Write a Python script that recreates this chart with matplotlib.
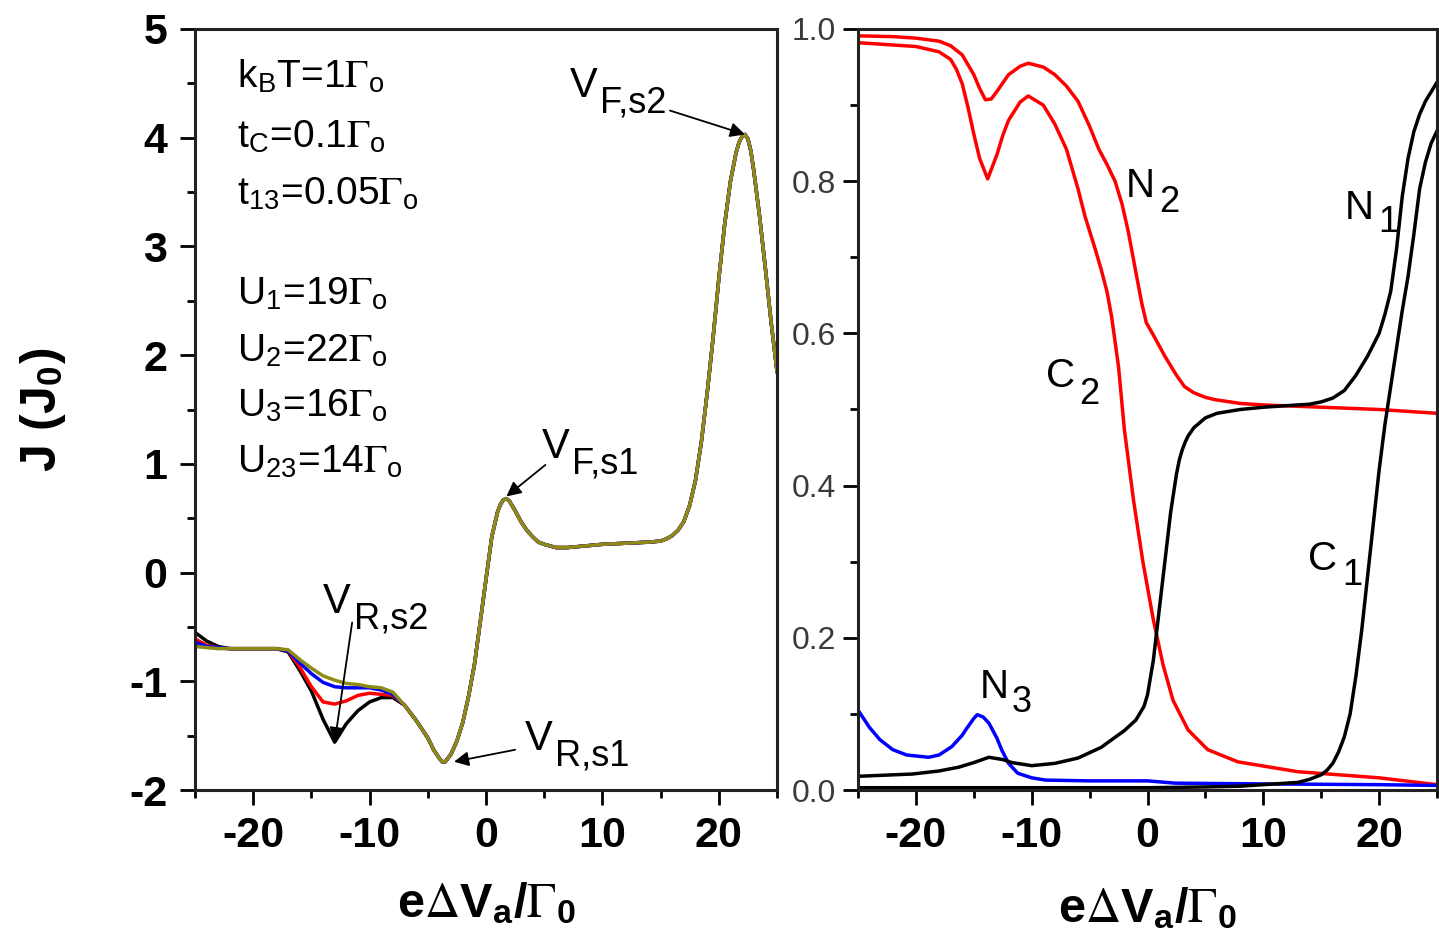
import numpy as np
import matplotlib
matplotlib.use("Agg")
import matplotlib.pyplot as plt
from matplotlib.ticker import MultipleLocator

plt.rcParams['font.family'] = ['Liberation Sans', 'DejaVu Sans']
plt.rcParams['mathtext.fontset'] = 'stix'

# ---- left panel: current J vs bias ----
# low-bias part where the four curves differ
x_div = [-25, -24, -23, -22, -20, -18, -17, -16, -15, -14, -13, -12, -11, -10, -9, -8]
j_black = [-0.55, -0.63, -0.68, -0.70, -0.70, -0.70, -0.73, -0.90, -1.09, -1.35, -1.56, -1.39, -1.27, -1.19, -1.15, -1.15]
j_red = [-0.61, -0.67, -0.69, -0.70, -0.70, -0.70, -0.72, -0.87, -1.05, -1.19, -1.21, -1.18, -1.13, -1.11, -1.12, -1.13]
j_blue = [-0.64, -0.68, -0.69, -0.70, -0.70, -0.70, -0.72, -0.83, -0.93, -1.01, -1.05, -1.06, -1.06, -1.06, -1.08, -1.12]
j_olive = [-0.68, -0.69, -0.70, -0.70, -0.70, -0.70, -0.71, -0.80, -0.88, -0.95, -0.99, -1.02, -1.03, -1.05, -1.06, -1.10]

# common part of all four curves
x_tail = [-7, -6, -5, -4.5, -4, -3.75, -3.5, -3, -2.5, -2, -1.5, -1, -0.5, 0, 0.5, 1, 1.25,
          1.5, 1.75, 2, 2.5, 3, 3.5, 4, 4.5, 5, 6, 7, 8, 10, 12, 14, 15, 15.5, 16, 16.5, 17,
          17.5, 18, 18.5, 19, 19.5, 20, 20.5, 21, 21.5, 21.75, 22, 22.25, 22.5, 22.75, 23,
          23.5, 24, 24.5, 25]
j_tail = [-1.22, -1.36, -1.52, -1.63, -1.71, -1.74, -1.74, -1.67, -1.55, -1.38, -1.14, -0.85,
          -0.46, -0.06, 0.33, 0.56, 0.63, 0.67, 0.68, 0.66, 0.57, 0.47, 0.39, 0.33, 0.28, 0.26,
          0.23, 0.23, 0.24, 0.26, 0.27, 0.28, 0.29, 0.31, 0.34, 0.39, 0.47, 0.62, 0.85, 1.20,
          1.65, 2.15, 2.70, 3.20, 3.60, 3.87, 3.96, 4.01, 4.03, 3.99, 3.88, 3.70, 3.28, 2.80,
          2.30, 1.85]

params = [r"k$_{\mathregular{B}}$T=1$\Gamma_{\mathregular{o}}$",
          r"t$_{\mathregular{C}}$=0.1$\Gamma_{\mathregular{o}}$",
          r"t$_{\mathregular{13}}$=0.05$\Gamma_{\mathregular{o}}$",
          r"U$_{\mathregular{1}}$=19$\Gamma_{\mathregular{o}}$",
          r"U$_{\mathregular{2}}$=22$\Gamma_{\mathregular{o}}$",
          r"U$_{\mathregular{3}}$=16$\Gamma_{\mathregular{o}}$",
          r"U$_{\mathregular{23}}$=14$\Gamma_{\mathregular{o}}$"]
param_y = [4.46, 3.91, 3.38, 2.46, 1.94, 1.43, 0.92]

# ---- right panel: occupations N and correlations C ----
x_n2 = [-25, -22, -20, -18, -17, -16, -15, -14.5, -14, -13.5, -13, -12, -11, -10.3, -9, -8,
        -7, -6, -5, -4.2, -3.5, -2.8, -2.2, -1.65, -1, -0.5, -0.1, 0.5, 1.5, 2.5, 3.2, 4, 5,
        5.8, 8, 10, 15, 20, 25]
n2 = [0.991, 0.990, 0.988, 0.984, 0.978, 0.966, 0.940, 0.922, 0.907, 0.908, 0.918, 0.940,
      0.951, 0.955, 0.950, 0.940, 0.925, 0.905, 0.872, 0.842, 0.822, 0.800, 0.770, 0.733,
      0.680, 0.640, 0.614, 0.598, 0.570, 0.545, 0.530, 0.522, 0.516, 0.513, 0.508, 0.506,
      0.503, 0.500, 0.495]

x_c2 = [-25, -20, -18, -17, -16.5, -16, -15.5, -15, -14.5, -13.8, -13, -12.5, -12, -11, -10.3,
        -9, -8, -7, -6, -5.4, -4.5, -4, -3.5, -3.1, -2.5, -2, -1.2, -0.4, 0.5, 1.35, 2.2,
        3.5, 5.2, 7.8, 13, 20, 25]
c2 = [0.982, 0.977, 0.970, 0.960, 0.947, 0.928, 0.897, 0.862, 0.830, 0.803, 0.835, 0.860,
      0.880, 0.904, 0.912, 0.900, 0.875, 0.842, 0.790, 0.754, 0.710, 0.684, 0.655, 0.622,
      0.556, 0.474, 0.380, 0.300, 0.224, 0.164, 0.118, 0.079, 0.053, 0.037, 0.024, 0.016,
      0.007]

x_n1 = [-25, -20.3, -18, -16.3, -15, -13.7, -12.5, -11.7, -10, -8, -6, -4, -3.1, -2, -1, -0.3,
        0, 0.5, 1, 1.5, 2, 2.5, 2.75, 3, 3.25, 3.5, 4, 5, 6, 8, 10, 12, 14, 15, 16, 17, 18,
        19, 20, 20.5, 21, 21.5, 22, 22.5, 23, 23.5, 24, 25]
n1 = [0.018, 0.021, 0.025, 0.030, 0.036, 0.043, 0.040, 0.036, 0.032, 0.035, 0.042, 0.056,
      0.066, 0.078, 0.092, 0.110, 0.125, 0.170, 0.235, 0.300, 0.365, 0.415, 0.434, 0.447,
      0.457, 0.465, 0.476, 0.489, 0.495, 0.500, 0.503, 0.505, 0.507, 0.510, 0.515, 0.525,
      0.545, 0.570, 0.600, 0.625, 0.655, 0.710, 0.780, 0.830, 0.865, 0.888, 0.905, 0.930]

x_c1 = [-25, -10, 0, 5, 8, 10, 12, 13, 14, 15, 15.5, 16, 16.5, 17, 17.5, 18, 18.5, 19, 19.5,
        20, 20.5, 21, 21.5, 22, 22.5, 23, 23.5, 24, 24.5, 25]
c1 = [0.003, 0.003, 0.003, 0.004, 0.005, 0.007, 0.009, 0.010, 0.014, 0.020, 0.026, 0.035,
      0.050, 0.070, 0.100, 0.150, 0.210, 0.280, 0.350, 0.420, 0.480, 0.530, 0.580, 0.630,
      0.675, 0.730, 0.790, 0.825, 0.850, 0.866]

x_n3 = [-25, -24, -23.1, -22, -20.8, -18.9, -18, -16.9, -16, -15.7, -15, -14.7, -14.2, -13.7,
        -13, -12.6, -12, -11.2, -10, -8.8, -5, 0, 2.4, 10, 20, 25]
n3 = [0.105, 0.082, 0.066, 0.053, 0.046, 0.043, 0.046, 0.057, 0.072, 0.079, 0.094, 0.099,
      0.096, 0.088, 0.068, 0.053, 0.035, 0.022, 0.016, 0.013, 0.012, 0.012, 0.009, 0.008,
      0.007, 0.006]

fig = plt.figure(figsize=(14.39, 9.42), dpi=100)
W, H = 1439.0, 942.0
ax1 = fig.add_axes([195 / W, 1 - 790 / H, 582 / W, 761 / H])
ax2 = fig.add_axes([858 / W, 1 - 790 / H, 579 / W, 761 / H])

lw = 2.5
for ys, c in [(j_black, 'black'), (j_red, '#ff0000'), (j_blue, '#0000ff'), (j_olive, '#8c8c14')]:
    ax1.plot(list(x_div) + x_tail, list(ys) + j_tail, color=c, lw=lw, solid_joinstyle='round')

ax1.set_xlim(-25, 25)
ax1.set_ylim(-2, 5)
ax1.xaxis.set_minor_locator(MultipleLocator(5))
ax1.yaxis.set_minor_locator(MultipleLocator(0.5))
ax1.set_xticks([-20, -10, 0, 10, 20])
ax1.set_xticklabels(['-20', '-10', '0', '10', '20'])
ax1.set_yticks(range(-2, 6))
ax1.set_yticklabels(['-2', '-1', '0', '1', '2', '3', '4', '5'])

for i, s in enumerate(params):
    ax1.text(-21.4, param_y[i], s, fontsize=28, va='baseline', ha='left')


def sub_label(ax, x, y, main, sub, size, sub_size, dx, dy):
    ax.text(x, y, main, fontsize=size, va='baseline', ha='left')
    ax.annotate(sub, (x, y), xytext=(dx, dy), textcoords='offset points',
                fontsize=sub_size, va='baseline', ha='left')


arrow = dict(arrowstyle='-|>', color='black', lw=1.3, mutation_scale=22, shrinkA=0, shrinkB=0)
xt = np.array(x_tail)
jt = np.array(j_tail)
i_min = np.argmin(jt)
i_pk2 = np.argmax(jt)
i_pk1 = np.argmax(np.where(xt < 5, jt, -9))
i_bmin = int(np.argmin(j_black))

sub_label(ax1, -14.0, -0.37, 'V', 'R,s2', 30, 26, 22, -11)
ax1.annotate('', xy=(x_div[i_bmin], j_black[i_bmin]), xytext=(-11.5, -0.46), arrowprops=arrow)

sub_label(ax1, 3.3, -1.63, 'V', 'R,s1', 30, 26, 22, -11)
ax1.annotate('', xy=(xt[i_min] + 1.0, jt[i_min]), xytext=(2.5, -1.63), arrowprops=arrow)

sub_label(ax1, 4.8, 1.05, 'V', 'F,s1', 30, 26, 22, -11)
ax1.annotate('', xy=(xt[i_pk1], jt[i_pk1] + 0.02), xytext=(5.1, 0.99), arrowprops=arrow)

sub_label(ax1, 7.2, 4.37, 'V', 'F,s2', 30, 26, 22, -11)
ax1.annotate('', xy=(xt[i_pk2], jt[i_pk2]), xytext=(15.8, 4.25), arrowprops=arrow)

xlab = r"e$\Delta$V$_{\mathregular{a}}$/$\Gamma_{\mathregular{0}}$"
ax1.set_ylabel(r"J (J$_{\mathregular{0}}$)", fontsize=36, fontweight='bold', labelpad=44)
ax1.set_xlabel(xlab, fontsize=35, fontweight='bold', labelpad=18)

# right panel
ax2.plot(x_n2, n2, color='#ff0000', lw=lw)
ax2.plot(x_c2, c2, color='#ff0000', lw=lw)
ax2.plot(x_n3, n3, color='#0000ff', lw=lw)
ax2.plot(x_n1, n1, color='black', lw=lw)
ax2.plot(x_c1, c1, color='black', lw=lw)

ax2.set_xlim(-25, 25)
ax2.set_ylim(0, 1)
ax2.set_xticks([-20, -10, 0, 10, 20])
ax2.set_xticklabels(['-20', '-10', '0', '10', '20'])
ax2.xaxis.set_minor_locator(MultipleLocator(5))
ax2.set_yticks([0, 0.2, 0.4, 0.6, 0.8, 1.0])
ax2.set_yticklabels(['0.0', '0.2', '0.4', '0.6', '0.8', '1.0'])
ax2.yaxis.set_minor_locator(MultipleLocator(0.1))

sub_label(ax2, -1.9, 0.779, 'N', '2', 29, 26, 24, -10.8)
sub_label(ax2, -8.75, 0.529, 'C', '2', 29, 26, 24, -12)
sub_label(ax2, 17.05, 0.75, 'N', '1', 29, 26, 24, -9.5)
sub_label(ax2, 13.9, 0.289, 'C', '1', 29, 26, 24, -10.8)
sub_label(ax2, -14.5, 0.121, 'N', '3', 29, 26, 23, -10)

ax2.set_xlabel(xlab, fontsize=35, fontweight='bold', labelpad=22)

for ax in (ax1, ax2):
    for sp in ax.spines.values():
        sp.set_linewidth(2.2)
        sp.set_color('#222222')
    ax.tick_params(which='major', direction='out', length=11, width=2.0, top=False, right=False)
    ax.tick_params(which='minor', direction='out', length=6, width=2.0, top=False, right=False)
    for lab in ax.get_xticklabels():
        lab.set_fontsize(31)
        lab.set_fontweight('bold')
    ax.tick_params(axis='x', pad=8)

for lab in ax1.get_yticklabels():
    lab.set_fontsize(31)
    lab.set_fontweight('bold')
ax1.tick_params(axis='y', pad=9)
for lab in ax2.get_yticklabels():
    lab.set_fontsize(23)
    lab.set_color('#3a3a3a')
ax2.tick_params(axis='y', pad=5)

fig.savefig('out.png', dpi=100)
